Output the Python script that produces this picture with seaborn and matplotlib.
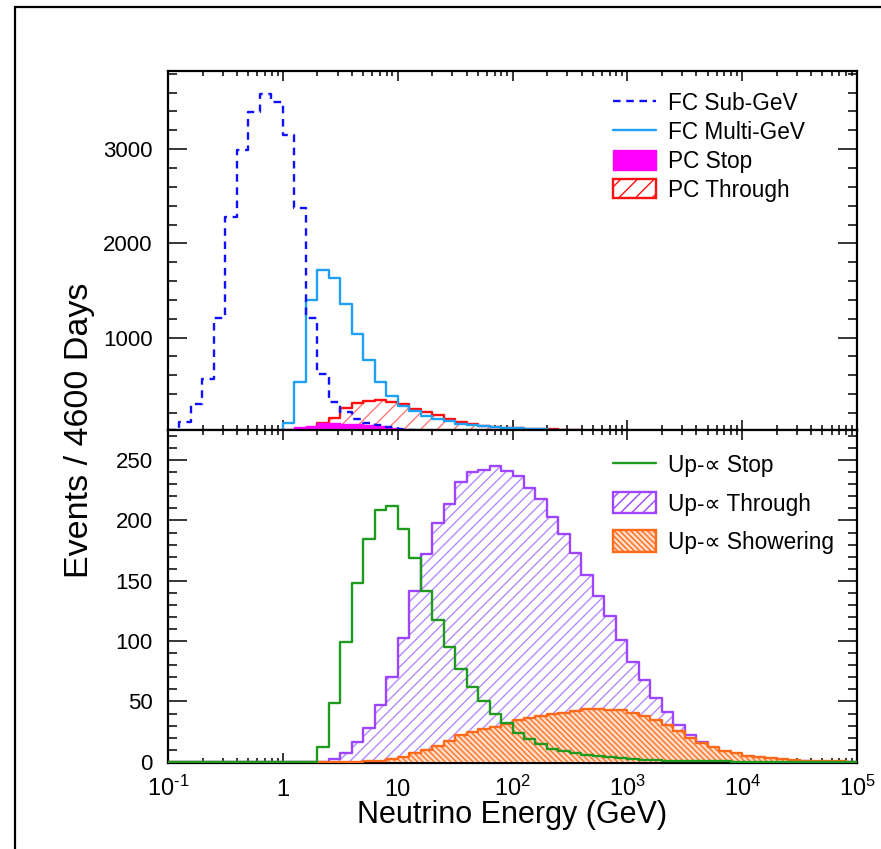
import numpy as np
import pandas as pd
import matplotlib
matplotlib.use("Agg")
import matplotlib.pyplot as plt
import seaborn as sns
from matplotlib.lines import Line2D
from matplotlib.patches import Patch, Rectangle
from matplotlib.ticker import FixedLocator, LogLocator, MultipleLocator, FuncFormatter

# Binning: 10 bins per decade in log10(E / GeV), from 0.1 GeV to 100 TeV
log_edges = np.round(np.linspace(-1.0, 5.0, 61), 2)
energy = 10 ** ((log_edges[:-1] + log_edges[1:]) / 2)

# ---- Fully/partially contained samples (events per bin) ----
fc_subgev = [15, 100, 297, 562, 1209, 2280, 2990, 3393, 3584, 3500,
             3150, 2375, 1209, 615, 320, 212, 138, 95, 70, 50,
             32, 22, 12, 6, 0, 0, 0, 0, 0, 0,
             0, 0, 0, 0, 0, 0, 0, 0, 0, 0,
             0, 0, 0, 0, 0, 0, 0, 0, 0, 0,
             0, 0, 0, 0, 0, 0, 0, 0, 0, 0]
fc_multigev = [0, 0, 0, 0, 0, 0, 0, 0, 0, 0,
               95, 530, 1400, 1718, 1633, 1357, 1039, 763, 528, 374,
               278, 215, 169, 134, 109, 84, 70, 56, 49, 41,
               34, 29, 25, 22, 0, 0, 0, 0, 0, 0,
               0, 0, 0, 0, 0, 0, 0, 0, 0, 0,
               0, 0, 0, 0, 0, 0, 0, 0, 0, 0]
pc_stop = [0, 0, 0, 0, 0, 0, 0, 0, 0, 0,
           28, 49, 63, 91, 91, 84, 81, 70, 56, 38,
           25, 0, 0, 0, 0, 0, 0, 0, 0, 0,
           0, 0, 0, 0, 0, 0, 0, 0, 0, 0,
           0, 0, 0, 0, 0, 0, 0, 0, 0, 0,
           0, 0, 0, 0, 0, 0, 0, 0, 0, 0]
pc_through = [0, 0, 0, 0, 0, 0, 0, 0, 0, 0,
              0, 0, 40, 91, 150, 255, 300, 330, 336, 320,
              290, 245, 205, 172, 136, 104, 82, 64, 50, 41,
              34, 30, 27, 24, 22, 21, 0, 0, 0, 0,
              0, 0, 0, 0, 0, 0, 0, 0, 0, 0,
              0, 0, 0, 0, 0, 0, 0, 0, 0, 0]

# ---- Upward-going muon samples (events per bin) ----
up_stop = [0, 0, 0, 0, 0, 0, 0, 0, 0, 0,
           0, 0, 0, 12.4, 49, 99.6, 148.5, 185, 208.6, 212,
           192.6, 169, 141.6, 117.5, 95, 77, 62, 50, 40, 32,
           24, 18.8, 14.6, 11, 9, 7, 5.8, 4.4, 3.6, 2.8,
           2.2, 1.6, 1.2, 0.9, 0.7, 0.5, 0.4, 0.3, 0.3, 0.2,
           0.2, 0.1, 0.1, 0.1, 0, 0, 0, 0, 0, 0]
up_through = [0, 0, 0, 0, 0, 0, 0, 0, 0, 0,
              0, 0, 0, 0, 2, 7, 16, 28, 47, 70,
              103, 141.6, 172, 198, 214, 232, 240, 242, 245, 241,
              237, 227, 218, 203, 188.5, 172.7, 154.8, 137.4, 120.9, 101,
              83, 68, 53, 41.4, 30.6, 22, 16, 11.3, 7.7, 5,
              3.6, 2.2, 1.5, 1, 0.6, 0.4, 0, 0, 0, 0]
up_shower = [0, 0, 0, 0, 0, 0, 0, 0, 0, 0,
             0, 0, 0, 0, 0, 0, 0, 0.5, 1, 2,
             4, 7, 10, 13.5, 17.6, 21.8, 24.5, 27.3, 29, 31.5,
             34.3, 36.4, 38, 39.5, 40.8, 42.2, 43.6, 43.6, 42.8, 42.8,
             40.8, 38, 34.5, 30.6, 25.6, 19.6, 15.5, 12.4, 9.1, 7.2,
             5, 3.6, 2.8, 2, 1.4, 1, 0.7, 0.5, 0.3, 0.2]

x_tick_values = [0.1, 1, 10, 1e2, 1e3, 1e4, 1e5]
x_tick_labels = [r"$10^{\text{-}1}$", "1", "10", "$10^{2}$", "$10^{3}$", "$10^{4}$", "$10^{5}$"]

# ---- Style ----
sns.set_theme(style="ticks")
plt.rcParams["font.family"] = ["Liberation Sans", "DejaVu Sans"]
plt.rcParams["mathtext.default"] = "regular"
plt.rcParams["mathtext.fontset"] = "custom"
plt.rcParams["mathtext.rm"] = "Liberation Sans"
plt.rcParams["hatch.linewidth"] = 1.0
for key in ("text.color", "axes.labelcolor", "xtick.color", "ytick.color", "axes.edgecolor"):
    plt.rcParams[key] = "black"

C_SUB = "#1010ff"
C_MULTI = "#1ea0f5"
C_PCSTOP = "#ff00ff"
C_PCTHRU = "#ff1010"
C_UPSTOP = "#1f9a1f"
C_UPTHRU = "#9d45ff"
C_UPSHOW = "#ff6a1a"
LW = 1.7
DASH = (0, (3.2, 2.4))
THRU_HATCH = "///"
SHOWER_HATCH = "\\\\\\\\\\\\"

fig = plt.figure(figsize=(8.81, 8.49), dpi=100)
W, H = 881.0, 849.0
left, right = 168 / W, 857 / W
y_top, y_mid, y_bot = 1 - 71 / H, 1 - 430 / H, 1 - 763 / H
ax1 = fig.add_axes([left, y_mid, right - left, y_top - y_mid])
ax2 = fig.add_axes([left, y_bot, right - left, y_mid - y_bot], sharex=ax1)


def hist(ax, values, **kw):
    df = pd.DataFrame({"energy": energy, "events": values})
    sns.histplot(data=df, x="energy", weights="events", bins=60,
                 binrange=(-1, 5), log_scale=True, element="step", ax=ax, **kw)


# Upper panel: contained events
hist(ax1, pc_through, fill=True, facecolor="white", edgecolor="#ff7a7a",
     hatch="//", linewidth=0, zorder=1)
hist(ax1, pc_through, fill=False, color=C_PCTHRU, linewidth=LW, zorder=2)
hist(ax1, pc_stop, fill=True, facecolor=C_PCSTOP, edgecolor=C_PCSTOP,
     linewidth=1.0, zorder=3)
hist(ax1, fc_multigev, fill=False, color=C_MULTI, linewidth=LW, zorder=4)
hist(ax1, fc_subgev, fill=False, color=C_SUB, linewidth=LW,
     linestyle=DASH, zorder=5)

# Lower panel: upward-going muons
hist(ax2, up_through, fill=True, facecolor="white", edgecolor="#b48aff",
     hatch=THRU_HATCH, linewidth=0, zorder=1)
hist(ax2, up_through, fill=False, color=C_UPTHRU, linewidth=LW, zorder=2)
hist(ax2, up_shower, fill=True, facecolor="#ffdcc8", edgecolor="#ff7326",
     hatch=SHOWER_HATCH, linewidth=0, zorder=3)
hist(ax2, up_shower, fill=False, color=C_UPSHOW, linewidth=LW, zorder=4)
hist(ax2, up_stop, fill=False, color=C_UPSTOP, linewidth=LW, zorder=5)

# ---- Axes ----
ax1.set_ylim(18, 3830)
ax2.set_ylim(-1, 275)
ax1.set_xlim(0.1, 1e5)

ax1.yaxis.set_major_locator(FixedLocator([1000, 2000, 3000]))
ax1.yaxis.set_minor_locator(MultipleLocator(200))
ax2.yaxis.set_major_locator(MultipleLocator(50))
ax2.yaxis.set_minor_locator(MultipleLocator(10))

tick_map = dict(zip(x_tick_values, x_tick_labels))
ax2.xaxis.set_major_locator(FixedLocator(x_tick_values))
ax2.xaxis.set_minor_locator(LogLocator(base=10, subs=np.arange(2, 10), numticks=30))
ax2.xaxis.set_major_formatter(FuncFormatter(
    lambda v, p: next((lab for t, lab in tick_map.items() if abs(np.log10(v) - np.log10(t)) < 1e-6), "")))

for ax in (ax1, ax2):
    ax.set_xlabel("")
    ax.set_ylabel("")
    for s in ax.spines.values():
        s.set_linewidth(1.6)
        s.set_color("black")
    ax.tick_params(which="both", direction="in", top=True, right=True,
                   width=1.1, color="black")
    ax.tick_params(axis="y", which="major", length=14, pad=11, labelsize=16)
    ax.tick_params(axis="y", which="minor", length=6.5)
    ax.tick_params(axis="x", which="major", length=7)
    ax.tick_params(axis="x", which="minor", length=3.8)

ax1.tick_params(axis="x", labelbottom=False)
ax2.tick_params(axis="x", which="major", labelsize=17, pad=24)
# Align energy labels on a common baseline (superscripts sit above it)
for tick in ax2.xaxis.get_major_ticks():
    tick.label1.set_verticalalignment("baseline")

fig.text(80 / W, y_mid, "Events / 4600 Days", rotation=90, ha="center",
         va="center", fontsize=24.5)
fig.text((168 + 857) / 2 / W, 1 - 815 / H, "Neutrino Energy (GeV)",
         ha="center", va="center", fontsize=22)

# ---- Legends ----
fs_leg = 16.3
top_handles = [
    Line2D([], [], color=C_SUB, lw=LW, linestyle=DASH),
    Line2D([], [], color=C_MULTI, lw=LW),
    Patch(facecolor=C_PCSTOP, edgecolor=C_PCSTOP, lw=1.0),
    Patch(facecolor="white", edgecolor=C_PCTHRU, hatch="//", lw=LW),
]
ax1.legend(top_handles, ["FC Sub-GeV", "FC Multi-GeV", "PC Stop", "PC Through"],
           loc="upper left", bbox_to_anchor=(613 / W, 1 - 92 / H),
           bbox_transform=fig.transFigure, frameon=False, fontsize=fs_leg,
           handlelength=1.9, handleheight=0.93, handletextpad=0.53,
           labelspacing=0.26, borderpad=0, borderaxespad=0)

bottom_handles = [
    Line2D([], [], color=C_UPSTOP, lw=LW),
    Patch(facecolor="white", edgecolor=C_UPTHRU, hatch=THRU_HATCH, lw=LW),
    Patch(facecolor="#ffdcc8", edgecolor=C_UPSHOW, hatch=SHOWER_HATCH, lw=LW),
]
ax2.legend(bottom_handles, ["Up-\u221d Stop", "Up-\u221d Through", "Up-\u221d Showering"],
           loc="upper left", bbox_to_anchor=(613 / W, 1 - 454 / H),
           bbox_transform=fig.transFigure, frameon=False, fontsize=fs_leg,
           handlelength=1.9, handleheight=1.06, handletextpad=0.53,
           labelspacing=0.66, borderpad=0, borderaxespad=0)

# Canvas frame
fig.add_artist(Rectangle((15 / W, -0.05), 1.2, 1 - 7 / H + 0.05,
                         transform=fig.transFigure, fill=False,
                         edgecolor="black", linewidth=1.6))

fig.savefig("out.png", dpi=100)
